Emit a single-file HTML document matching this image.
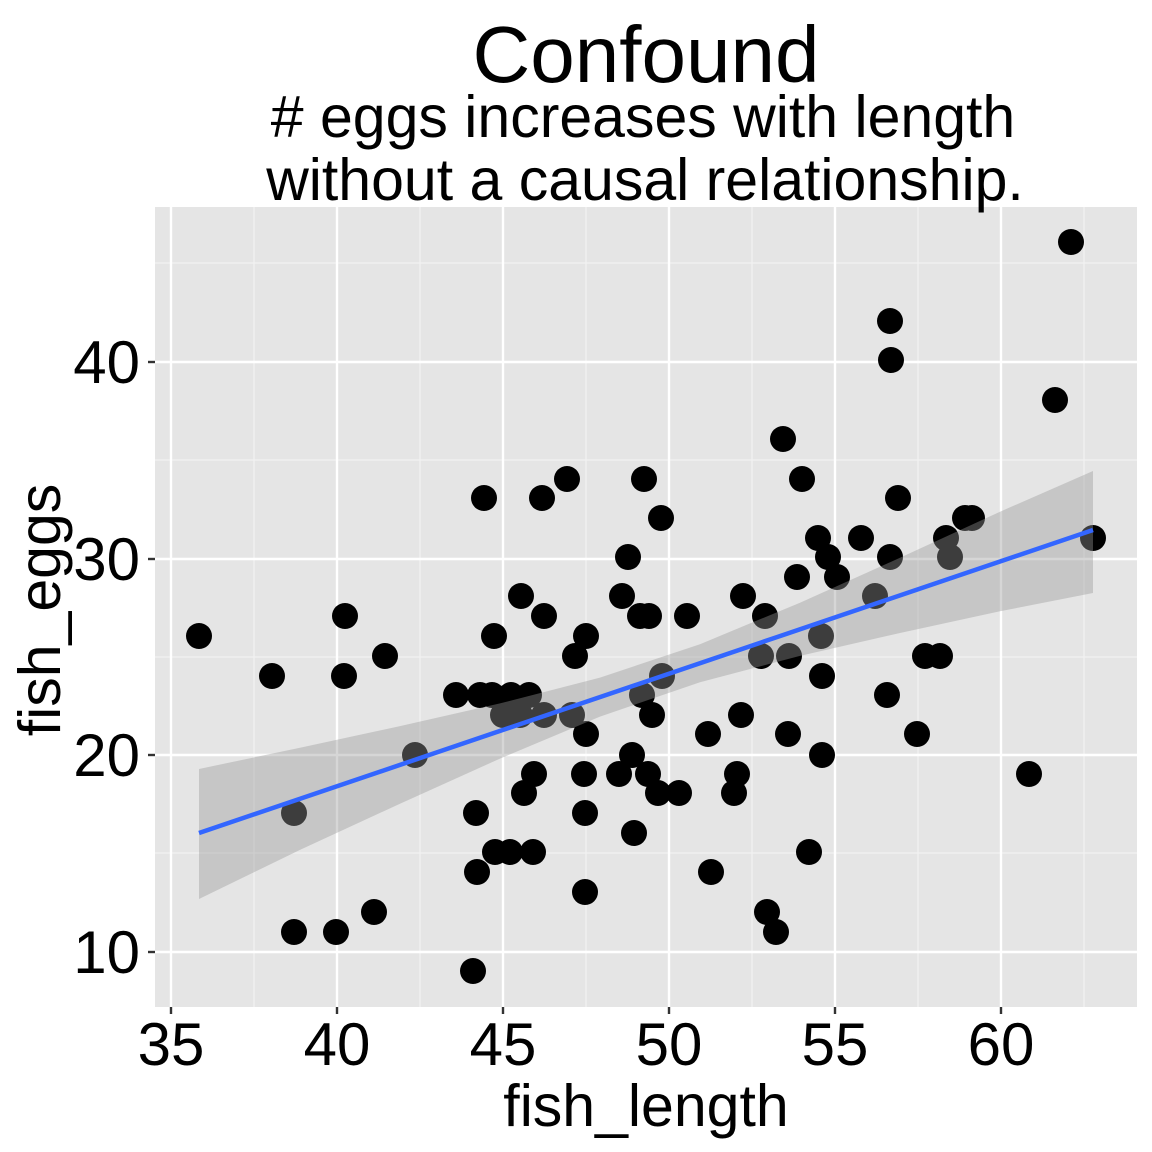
<!DOCTYPE html>
<html><head><meta charset="utf-8"><style>
html,body{margin:0;padding:0;background:#fff;}
svg{display:block;font-family:"Liberation Sans",Arial,sans-serif;}
</style></head><body>
<svg width="1152" height="1152" viewBox="0 0 1152 1152" xmlns="http://www.w3.org/2000/svg">
<rect x="0" y="0" width="1152" height="1152" fill="#fff"/>
<rect x="155" y="207" width="982" height="800" fill="#e5e5e5"/>
<g stroke="#f2f2f2" stroke-width="1.2">
<line x1="254" y1="207" x2="254" y2="1007"/><line x1="420" y1="207" x2="420" y2="1007"/><line x1="586" y1="207" x2="586" y2="1007"/><line x1="752" y1="207" x2="752" y2="1007"/><line x1="918" y1="207" x2="918" y2="1007"/><line x1="1084" y1="207" x2="1084" y2="1007"/>
<line x1="155" y1="263" x2="1137" y2="263"/><line x1="155" y1="460" x2="1137" y2="460"/><line x1="155" y1="657" x2="1137" y2="657"/><line x1="155" y1="853" x2="1137" y2="853"/>
</g>
<g stroke="#fff" stroke-width="2.4">
<line x1="171" y1="207" x2="171" y2="1007"/><line x1="337" y1="207" x2="337" y2="1007"/><line x1="503" y1="207" x2="503" y2="1007"/><line x1="669" y1="207" x2="669" y2="1007"/><line x1="835" y1="207" x2="835" y2="1007"/><line x1="1001" y1="207" x2="1001" y2="1007"/>
<line x1="155" y1="362" x2="1137" y2="362"/><line x1="155" y1="559" x2="1137" y2="559"/><line x1="155" y1="755" x2="1137" y2="755"/><line x1="155" y1="952" x2="1137" y2="952"/>
</g>
<g fill="#000">
<circle cx="199" cy="636" r="13"/><circle cx="272" cy="676" r="13"/><circle cx="294" cy="813" r="13"/><circle cx="294" cy="932" r="13"/><circle cx="336" cy="932" r="13"/><circle cx="345" cy="616" r="13"/><circle cx="344" cy="676" r="13"/><circle cx="374" cy="912" r="13"/><circle cx="385" cy="656" r="13"/><circle cx="415" cy="755" r="13"/><circle cx="456" cy="695" r="13"/><circle cx="473" cy="971" r="13"/><circle cx="477" cy="872" r="13"/><circle cx="476" cy="813" r="13"/><circle cx="484" cy="498" r="13"/><circle cx="480" cy="695" r="13"/><circle cx="494" cy="636" r="13"/><circle cx="492" cy="695" r="13"/><circle cx="495" cy="852" r="13"/><circle cx="503" cy="715" r="13"/><circle cx="510" cy="852" r="13"/><circle cx="511" cy="695" r="13"/><circle cx="520" cy="715" r="13"/><circle cx="521" cy="596" r="13"/><circle cx="524" cy="793" r="13"/><circle cx="529" cy="695" r="13"/><circle cx="533" cy="852" r="13"/><circle cx="534" cy="774" r="13"/><circle cx="542" cy="498" r="13"/><circle cx="544" cy="616" r="13"/><circle cx="544" cy="715" r="13"/><circle cx="567" cy="479" r="13"/><circle cx="572" cy="715" r="13"/><circle cx="575" cy="656" r="13"/><circle cx="586" cy="636" r="13"/><circle cx="586" cy="734" r="13"/><circle cx="584" cy="774" r="13"/><circle cx="585" cy="813" r="13"/><circle cx="585" cy="892" r="13"/><circle cx="619" cy="774" r="13"/><circle cx="622" cy="596" r="13"/><circle cx="628" cy="557" r="13"/><circle cx="632" cy="755" r="13"/><circle cx="634" cy="833" r="13"/><circle cx="642" cy="695" r="13"/><circle cx="644" cy="479" r="13"/><circle cx="640" cy="616" r="13"/><circle cx="649" cy="616" r="13"/><circle cx="648" cy="774" r="13"/><circle cx="652" cy="715" r="13"/><circle cx="658" cy="793" r="13"/><circle cx="661" cy="518" r="13"/><circle cx="662" cy="676" r="13"/><circle cx="679" cy="793" r="13"/><circle cx="687" cy="616" r="13"/><circle cx="708" cy="734" r="13"/><circle cx="711" cy="872" r="13"/><circle cx="737" cy="774" r="13"/><circle cx="734" cy="793" r="13"/><circle cx="741" cy="715" r="13"/><circle cx="743" cy="596" r="13"/><circle cx="761" cy="656" r="13"/><circle cx="765" cy="616" r="13"/><circle cx="767" cy="912" r="13"/><circle cx="776" cy="932" r="13"/><circle cx="783" cy="439" r="13"/><circle cx="789" cy="656" r="13"/><circle cx="788" cy="734" r="13"/><circle cx="797" cy="577" r="13"/><circle cx="802" cy="479" r="13"/><circle cx="809" cy="852" r="13"/><circle cx="818" cy="538" r="13"/><circle cx="821" cy="636" r="13"/><circle cx="822" cy="676" r="13"/><circle cx="822" cy="755" r="13"/><circle cx="828" cy="557" r="13"/><circle cx="837" cy="577" r="13"/><circle cx="861" cy="538" r="13"/><circle cx="875" cy="596" r="13"/><circle cx="887" cy="695" r="13"/><circle cx="890" cy="321" r="13"/><circle cx="891" cy="360" r="13"/><circle cx="890" cy="557" r="13"/><circle cx="898" cy="498" r="13"/><circle cx="917" cy="734" r="13"/><circle cx="925" cy="656" r="13"/><circle cx="940" cy="656" r="13"/><circle cx="946" cy="538" r="13"/><circle cx="950" cy="557" r="13"/><circle cx="965" cy="518" r="13"/><circle cx="972" cy="518" r="13"/><circle cx="1029" cy="774" r="13"/><circle cx="1055" cy="400" r="13"/><circle cx="1071" cy="242" r="13"/><circle cx="1093" cy="538" r="13"/>
</g>
<polygon fill="#999" fill-opacity="0.4" points="199,769 300,747.7 400,726.1 500,703.4 600,677.6 700,644.2 800,602.7 900,557.8 1000,511.7 1093,471 1093,593 1000,611.3 900,633 800,655.9 700,682.2 600,716.6 500,758.6 400,803.7 300,849.9 199,899"/>
<line x1="199" y1="833" x2="1093" y2="530" stroke="#3366ff" stroke-width="4.5"/>
<g stroke="#333" stroke-width="2.4">
<line x1="171" y1="1007" x2="171" y2="1014"/><line x1="337" y1="1007" x2="337" y2="1014"/><line x1="503" y1="1007" x2="503" y2="1014"/><line x1="669" y1="1007" x2="669" y2="1014"/><line x1="835" y1="1007" x2="835" y2="1014"/><line x1="1001" y1="1007" x2="1001" y2="1014"/>
<line x1="148" y1="362" x2="155" y2="362"/><line x1="148" y1="559" x2="155" y2="559"/><line x1="148" y1="755" x2="155" y2="755"/><line x1="148" y1="952" x2="155" y2="952"/>
</g>
<g font-size="60" fill="#000" text-anchor="middle">
<text x="171" y="1065">35</text><text x="337" y="1065">40</text><text x="503" y="1065">45</text><text x="669" y="1065">50</text><text x="835" y="1065">55</text><text x="1001" y="1065">60</text>
</g>
<g font-size="60" fill="#000" text-anchor="end">
<text x="140" y="383">40</text><text x="140" y="580">30</text><text x="140" y="776">20</text><text x="140" y="973">10</text>
</g>
<text x="646" y="1126" font-size="59" text-anchor="middle">fish_length</text>
<text transform="translate(60,610) rotate(-90)" font-size="59" text-anchor="middle">fish_eggs</text>
<text x="646" y="82" font-size="80" text-anchor="middle">Confound</text>
<text x="643" y="137" font-size="59" text-anchor="middle"># eggs increases with length</text>
<text x="645" y="200" font-size="59" text-anchor="middle">without a causal relationship.</text>
</svg>
</body></html>
